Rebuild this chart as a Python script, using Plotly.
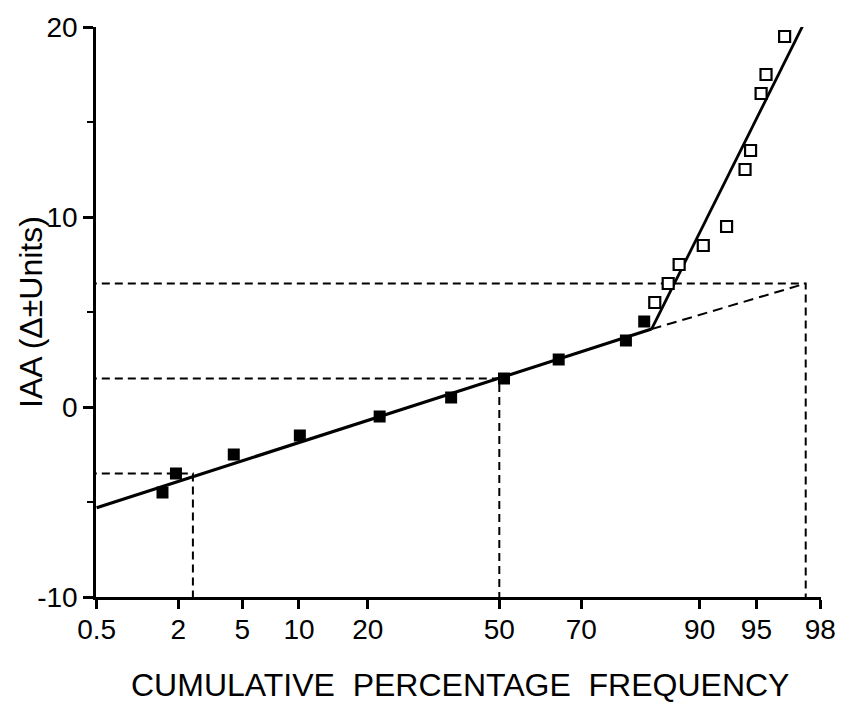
from statistics import NormalDist
import plotly.graph_objects as go

# ---------------- data ----------------
tick_pct = [0.5, 2, 5, 10, 20, 50, 70, 90, 95, 98]
tick_text = ["0.5", "2", "5", "10", "20", "50", "70", "90", "95", "98"]
y_tick_vals = [-10, 0, 10, 20]
y_tick_text = ["-10", "0", "10", "20"]
y_minor_vals = [-5, 5, 15]

filled_pct = [1.56, 1.93, 4.47, 10.1, 22.2, 37.9, 51.2, 64.8, 79.1, 82.3]
filled_iaa = [-4.5, -3.5, -2.5, -1.5, -0.5, 0.5, 1.5, 2.5, 3.5, 4.5]
open_pct = [84.0, 86.0, 87.5, 90.4, 92.7, 94.2, 94.6, 95.3, 95.6, 96.6]
open_iaa = [5.5, 6.5, 7.5, 8.5, 9.5, 12.5, 13.5, 16.5, 17.5, 19.5]

fit_low_pct = [0.5, 83.5]
fit_low_iaa = [-5.3, 4.1]
fit_ext_pct = [83.5, 97.5]
fit_ext_iaa = [4.1, 6.5]
fit_high_pct = [83.5, 97.4]
fit_high_iaa = [4.1, 20.1]

guide_pct = [2.5, 50, 97.5]
guide_iaa = [-3.5, 1.5, 6.5]
x_start_pct = 0.5
y_bottom = -10

# ---------------- probability (probit) transform ----------------
_nd = NormalDist()


def z(p):
    return _nd.inv_cdf(p / 100.0)


FONT = "Liberation Sans, Arial, Helvetica, sans-serif"

fig = go.Figure()

# dashed guide lines
gx, gy = [], []
for p, v in zip(guide_pct, guide_iaa):
    gx += [z(x_start_pct) - 0.05, z(p), z(p), None]
    gy += [v, v, y_bottom, None]
fig.add_trace(go.Scatter(x=gx, y=gy, mode="lines",
                         line=dict(color="black", width=2, dash="8px,5px"),
                         hoverinfo="skip", showlegend=False, cliponaxis=False))

# lower fitted line (solid)
fig.add_trace(go.Scatter(x=[z(p) for p in fit_low_pct], y=fit_low_iaa, mode="lines",
                         line=dict(color="black", width=3.2), showlegend=False))
# extrapolation (dashed)
fig.add_trace(go.Scatter(x=[z(p) for p in fit_ext_pct], y=fit_ext_iaa, mode="lines",
                         line=dict(color="black", width=2, dash="10px,6px"), showlegend=False))
# steep upper line
fig.add_trace(go.Scatter(x=[z(p) for p in fit_high_pct], y=fit_high_iaa, mode="lines",
                         line=dict(color="black", width=2.8), showlegend=False,
                         cliponaxis=False))

# filled squares
fig.add_trace(go.Scatter(x=[z(p) for p in filled_pct], y=filled_iaa, mode="markers",
                         marker=dict(symbol="square", size=12, color="black",
                                     line=dict(width=0)),
                         showlegend=False))
# open squares
fig.add_trace(go.Scatter(x=[z(p) for p in open_pct], y=open_iaa, mode="markers",
                         marker=dict(symbol="square", size=11, color="white",
                                     line=dict(width=2.2, color="black")),
                         showlegend=False, cliponaxis=False))

eps = 0.004
fig.update_layout(
    width=848, height=704,
    margin=dict(l=96, r=17, t=27, b=107),
    paper_bgcolor="white", plot_bgcolor="white",
    font=dict(family=FONT, color="black"),
    xaxis=dict(
        range=[z(tick_pct[0]) - eps, z(tick_pct[-1]) + eps],
        tickmode="array", tickvals=[z(p) for p in tick_pct], ticktext=tick_text,
        ticks="outside", ticklen=9, tickwidth=2.5, tickcolor="black",
        showline=True, linewidth=2.5, linecolor="black",
        showgrid=False, zeroline=False,
        tickfont=dict(family=FONT, size=28, color="black"),
        ticklabeloverflow="allow", ticklabelstandoff=-3,
    ),
    yaxis=dict(
        range=[-10, 20],
        tickmode="array", tickvals=y_tick_vals, ticktext=y_tick_text,
        ticks="outside", ticklen=10, tickwidth=2.5, tickcolor="black",
        minor=dict(tickmode="array", tickvals=y_minor_vals, ticks="outside",
                   ticklen=6, tickwidth=2, tickcolor="black", showgrid=False),
        showline=True, linewidth=2.5, linecolor="black",
        showgrid=False, zeroline=False,
        tickfont=dict(family=FONT, size=28, color="black"),
    ),
    annotations=[
        dict(text="CUMULATIVE\u00a0\u00a0PERCENTAGE\u00a0\u00a0FREQUENCY",
             xref="paper", yref="paper", x=0.502, y=0, yshift=-88,
             xanchor="center", yanchor="middle", showarrow=False,
             font=dict(family=FONT, size=32, color="black")),
        dict(text="IAA (\u0394\u00b1Units)",
             xref="paper", yref="paper", x=0, xshift=-65, y=0.5,
             xanchor="center", yanchor="middle", textangle=-90, showarrow=False,
             font=dict(family=FONT, size=32, color="black")),
    ],
)

fig.write_html("out.html")
